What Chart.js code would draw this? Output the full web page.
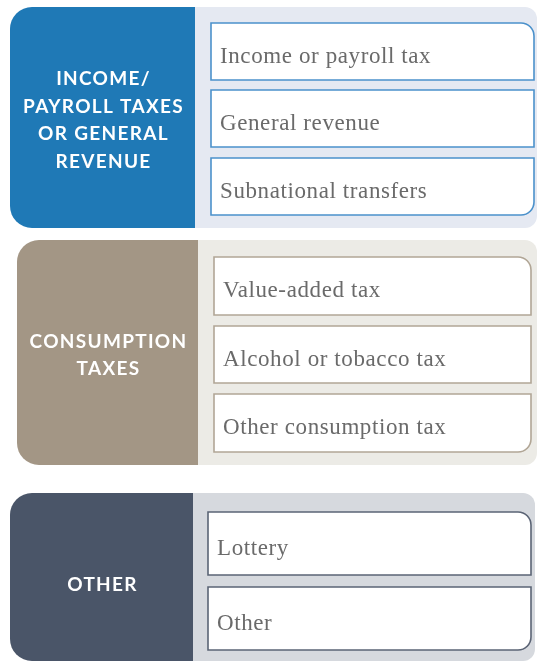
<!DOCTYPE html>
<html>
<head>
<meta charset="utf-8">
<script src="https://cdn.jsdelivr.net/npm/chart.js@4.4.1/dist/chart.umd.min.js"></script>
<style>
    html, body { margin: 0; padding: 0; background: #ffffff; }
    #wrap { width: 538px; height: 662px; }
</style>
</head>
<body>
<div id="wrap"><canvas id="diagram"></canvas></div>
<script>
// Content
const groupTitles = [
    ['INCOME/', 'PAYROLL TAXES', 'OR GENERAL', 'REVENUE'],
    ['CONSUMPTION', 'TAXES'],
    ['OTHER']
];
const groupItems = [
    ['Income or payroll tax', 'General revenue', 'Subnational transfers'],
    ['Value-added tax', 'Alcohol or tobacco tax', 'Other consumption tax'],
    ['Lottery', 'Other']
];

// Layout, in scale units (y grows downward)
const groupTop = [7, 240, 493];
const groupBottom = [228, 465, 661];
const blockLeft = [10, 17, 10];
const blockRight = [195, 198, 193];
const panelRight = [537, 537, 535];
const titleShift = [3, 3, 8];
const itemLeft = [211, 214, 208];
const itemRight = [534, 531, 531];
const itemTop = [[23, 90, 158], [257, 326, 394], [512, 587]];
const itemBottom = [[80, 147, 215], [315, 383, 452], [575, 650]];

// Styles
const blockColors = ['#1f79b6', '#a39685', '#4a5568'];
const panelColors = ['#e5e9f2', '#ecebe6', '#d6d9de'];
const itemBorders = ['#4b91cb', '#b1a696', '#5b6475'];

const diagramPlugin = {
    id: 'diagram',
    afterDraw(chart) {
        const ctx = chart.ctx;
        const x = chart.scales.x;
        const y = chart.scales.y;
        const px = v => x.getPixelForValue(v);
        const py = v => y.getPixelForValue(v);

        ctx.save();
        groupTitles.forEach((title, g) => {
            const top = py(groupTop[g]);
            const bottom = py(groupBottom[g]);

            // light panel behind the items
            ctx.fillStyle = panelColors[g];
            ctx.beginPath();
            ctx.roundRect(px(blockRight[g]) - 10, top, px(panelRight[g]) - px(blockRight[g]) + 10, bottom - top, [0, 12, 12, 0]);
            ctx.fill();

            // coloured title block
            ctx.fillStyle = blockColors[g];
            ctx.beginPath();
            ctx.roundRect(px(blockLeft[g]), top, px(blockRight[g]) - px(blockLeft[g]), bottom - top, [22, 0, 0, 22]);
            ctx.fill();

            // title text
            ctx.fillStyle = '#ffffff';
            ctx.font = 'bold 19px Lato';
            ctx.letterSpacing = '1.3px';
            ctx.textAlign = 'center';
            ctx.textBaseline = 'middle';
            const cx = (px(blockLeft[g]) + px(blockRight[g])) / 2 + 1;
            const cy = (top + bottom) / 2 + titleShift[g];
            const lh = 27.5;
            title.forEach((line, i) => {
                ctx.fillText(line, cx, cy + (i - (title.length - 1) / 2) * lh);
            });

            // item boxes
            const items = groupItems[g];
            items.forEach((label, i) => {
                const x0 = px(itemLeft[g]);
                const x1 = px(itemRight[g]);
                const y0 = py(itemTop[g][i]);
                const y1 = py(itemBottom[g][i]);
                const rTop = i === 0 ? 13 : 0;
                const rBottom = i === items.length - 1 ? 13 : 0;
                ctx.beginPath();
                ctx.roundRect(x0, y0, x1 - x0, y1 - y0, [0, rTop, rBottom, 0]);
                ctx.fillStyle = '#ffffff';
                ctx.fill();
                ctx.lineWidth = 1.6;
                ctx.strokeStyle = itemBorders[g];
                ctx.stroke();

                ctx.fillStyle = '#6a6a6a';
                ctx.font = '23px "Liberation Serif"';
                ctx.letterSpacing = '0.6px';
                ctx.textAlign = 'left';
                ctx.textBaseline = 'alphabetic';
                ctx.fillText(label, x0 + 9, (y0 + y1) / 2 + 11);
            });
        });
        ctx.restore();
    }
};

new Chart(document.getElementById('diagram'), {
    type: 'scatter',
    data: { datasets: [{ data: [] }] },
    options: {
        responsive: true,
        maintainAspectRatio: false,
        animation: false,
        layout: { padding: 0 },
        plugins: { legend: { display: false }, tooltip: { enabled: false } },
        scales: {
            x: { type: 'linear', min: 0, max: 538, display: false },
            y: { type: 'linear', min: 0, max: 662, reverse: true, display: false }
        }
    },
    plugins: [diagramPlugin]
});
</script>
</body>
</html>
